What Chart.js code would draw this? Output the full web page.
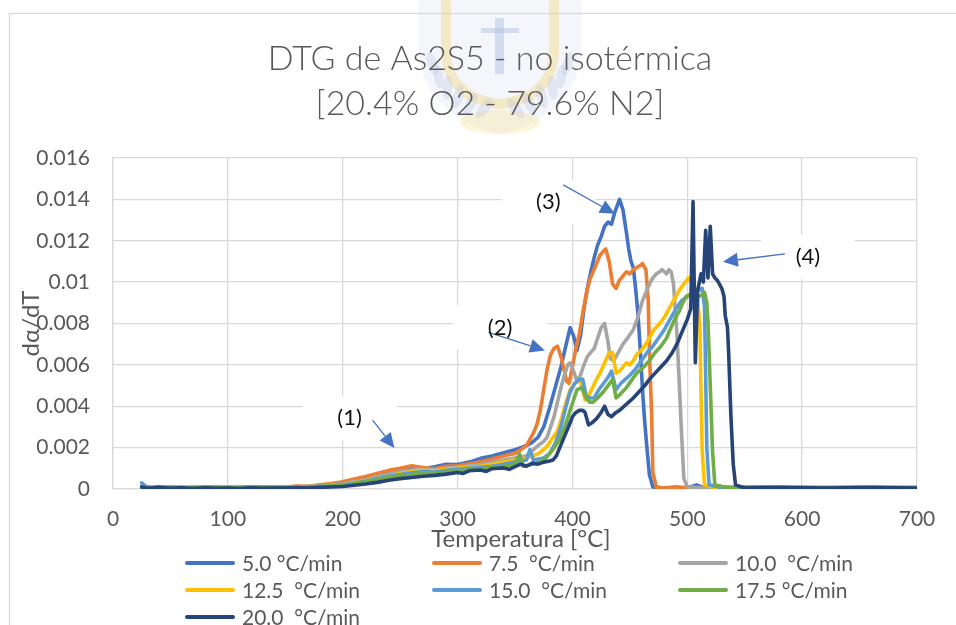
<!DOCTYPE html>
<html>
<head>
<meta charset="utf-8">
<title>DTG de As2S5 - no isotérmica</title>
<script src="https://cdn.jsdelivr.net/npm/chart.js@4/dist/chart.umd.min.js"></script>
<style>
  html, body { margin: 0; padding: 0; background: #ffffff; }
  canvas { display: block; }
</style>
</head>
<body>
<canvas id="dtg" width="956" height="625"></canvas>
<script>
// Heating-rate series (temperature in °C, dα/dT)
const seriesNames = ['5.0 °C/min', '7.5  °C/min', '10.0  °C/min', '12.5  °C/min', '15.0  °C/min', '17.5 °C/min', '20.0  °C/min'];

const tRate5 = [25,30,40,50,60,70,80,90,100,110,
  120,130,140,150,160,170,180,190,200,210,
  220,230,240,250,260,270,280,290,300,310,
  320,330,340,350,355,360,365,370,375,380,
  385,390,395,398,401,404,407,410,413,416,
  419,422,425,428,431,434,437,441,444,447,
  449,451,453,455,457,459,461,463,465,467,
  470,480,490,500,508,515,530,560,600,650,
  700];
const vRate5 = [0.0001,0.00005,0.0001,0.00003,0.00008,0.00005,0.0001,0.00004,0.00008,0.00006,
  0.0001,0.00007,0.0001,0.00008,0.00012,0.0001,0.00016,0.0002,0.0003,0.0004,
  0.00052,0.00065,0.0008,0.00092,0.00105,0.00098,0.00108,0.0012,0.00118,0.0013,
  0.00148,0.0016,0.00175,0.0019,0.002,0.0021,0.00225,0.0025,0.003,0.0039,
  0.0049,0.0059,0.0071,0.0078,0.0074,0.0067,0.0074,0.0087,0.0097,0.0105,
  0.0112,0.0118,0.0122,0.0127,0.0129,0.0128,0.0134,0.0140,0.0135,0.0124,
  0.0116,0.0110,0.0107,0.0097,0.0085,0.0068,0.0048,0.0032,0.0019,0.0007,
  0.0001,0.00005,0.0001,0.00005,0.0002,0.00005,0.0001,0.00005,0.00008,0.00005,
  0.00006];

const tRate75 = [25,30,40,50,60,70,80,90,100,110,
  120,130,140,150,160,170,180,190,200,210,
  220,230,240,250,260,270,280,290,300,310,
  320,330,340,350,355,360,363,366,369,372,
  375,378,381,384,387,390,393,395,397,400,
  403,406,409,412,415,418,421,424,427,429,
  432,435,438,441,444,447,450,453,456,459,
  461,464,466,467,469,470,473,480,500,520,
  560,600,650,700];
const vRate75 = [0.0001,0.00006,0.00004,0.00008,0.00005,0.0001,0.00006,0.00008,0.00005,0.0001,
  0.00007,0.00009,0.00011,0.0001,0.00014,0.00013,0.0002,0.00026,0.00035,0.00048,
  0.0006,0.00075,0.0009,0.001,0.00112,0.00104,0.00098,0.0011,0.00112,0.00122,
  0.00132,0.00145,0.0016,0.00172,0.0019,0.0021,0.0024,0.0027,0.0031,0.0038,
  0.0048,0.0058,0.0065,0.0068,0.0069,0.0064,0.0057,0.0052,0.0051,0.0059,
  0.0068,0.0075,0.0085,0.0094,0.0101,0.0105,0.0109,0.0113,0.0115,0.0116,
  0.0110,0.0099,0.0097,0.0101,0.0103,0.0105,0.0104,0.0106,0.0107,0.0108,
  0.0109,0.0106,0.0091,0.0067,0.0035,0.0008,0.0001,0.00005,0.00008,0.00004,
  0.00006,0.00003,0.00005,0.00004];

const tRate10 = [25,40,60,80,100,120,140,160,180,200,
  210,220,230,240,250,260,270,280,290,300,
  310,320,330,340,350,360,366,370,375,378,
  381,384,387,390,393,396,398,401,404,407,
  410,413,416,419,422,425,428,431,433,436,
  440,444,448,453,457,461,464,467,470,473,
  476,478,480,482,484,486,488,490,491,493,
  495,497,500,520,560,600,650,700];
const vRate10 = [0.00008,0.00005,0.0001,0.00005,0.00008,0.00005,0.0001,0.0001,0.00015,0.00025,
  0.00035,0.00045,0.0006,0.00072,0.00085,0.00092,0.00095,0.00092,0.001,0.00105,
  0.00112,0.0012,0.0013,0.0014,0.0015,0.0016,0.0019,0.0021,0.0023,0.0025,
  0.003,0.0035,0.0042,0.0049,0.0055,0.006,0.0061,0.0057,0.0052,0.0055,
  0.006,0.0064,0.0066,0.0068,0.0073,0.0078,0.0080,0.0071,0.0063,0.0062,
  0.0066,0.0070,0.0073,0.0077,0.0083,0.0091,0.0095,0.0099,0.0102,0.0104,
  0.0105,0.0106,0.0105,0.0104,0.0106,0.0105,0.0099,0.0083,0.0075,0.0051,
  0.0027,0.0005,0.0001,0.00005,0.00008,0.00004,0.00006,0.00005];

const tRate125 = [25,40,60,80,100,120,140,160,180,200,
  210,220,230,240,250,260,270,280,290,300,
  310,320,330,340,350,360,370,377,382,387,
  391,395,398,402,406,409,411,413,415,420,
  424,428,432,435,438,441,444,447,450,453,
  456,460,464,467,471,476,480,485,489,493,
  497,501,505,509,511,512,513,515,525,560,
  600,650,700];
const vRate125 = [0.00006,0.0001,0.00005,0.00008,0.00005,0.0001,0.00006,0.0001,0.00013,0.0002,
  0.0003,0.0004,0.0005,0.0006,0.00075,0.00085,0.0009,0.00088,0.00095,0.001,
  0.00105,0.0011,0.0012,0.0013,0.0014,0.0015,0.0017,0.002,0.0024,0.0028,
  0.0035,0.0043,0.0048,0.0051,0.0053,0.0048,0.0043,0.0044,0.0046,0.0052,
  0.0056,0.0061,0.0066,0.0066,0.0056,0.0057,0.0059,0.0061,0.0060,0.0062,
  0.0065,0.0067,0.0070,0.0073,0.0077,0.0080,0.0083,0.0088,0.0092,0.0096,
  0.0099,0.0102,0.0099,0.0093,0.0078,0.0045,0.0018,0.0002,0.00005,0.00008,
  0.00005,0.00007,0.00005];

const tRate15 = [25,28,35,50,70,90,110,130,150,170,
  190,200,210,220,230,240,250,260,270,280,
  290,300,310,320,330,340,350,360,363,366,
  375,380,385,390,394,398,402,406,409,412,
  415,419,423,427,431,434,438,442,446,450,
  455,460,465,470,475,480,485,490,495,500,
  505,510,513,515,516,517,519,530,560,600,
  650,700];
const vRate15 = [0.0003,0.00015,0.00005,0.0001,0.00005,0.0001,0.00006,0.0001,0.00007,0.0001,
  0.00015,0.0002,0.00028,0.00038,0.0005,0.0006,0.0007,0.00078,0.00085,0.00082,
  0.0009,0.00095,0.001,0.00105,0.0011,0.0012,0.0013,0.0014,0.0019,0.0014,
  0.0015,0.0017,0.0022,0.003,0.0039,0.0047,0.0051,0.0053,0.0053,0.0045,
  0.0044,0.0044,0.0048,0.0051,0.0054,0.0057,0.0048,0.0051,0.0053,0.0055,
  0.0058,0.0062,0.0066,0.0069,0.0073,0.0077,0.0082,0.0087,0.0091,0.0093,
  0.0095,0.0096,0.0097,0.0088,0.0055,0.002,0.0002,0.00006,0.0001,0.00005,
  0.00008,0.00005];

const tRate175 = [25,40,60,80,100,120,140,160,180,200,
  210,220,230,240,250,260,270,280,290,300,
  310,320,330,340,350,354,357,365,372,377,
  383,389,394,398,401,404,408,412,415,418,
  422,427,431,435,438,442,447,452,456,462,
  467,472,477,482,485,489,493,496,499,502,
  506,510,513,515,517,518,520,522,524,535,
  560,600,650,700];
const vRate175 = [0.00005,0.0001,0.00005,0.0001,0.00006,0.0001,0.00005,0.0001,0.00012,0.00018,
  0.00025,0.00035,0.00045,0.00055,0.00065,0.0007,0.00078,0.00075,0.00082,0.00088,
  0.00092,0.00098,0.00105,0.0011,0.0012,0.0017,0.0011,0.0012,0.0013,0.0015,
  0.0019,0.0024,0.0031,0.0038,0.0043,0.0048,0.0049,0.0044,0.0042,0.0042,
  0.0044,0.0047,0.0050,0.0053,0.0044,0.0046,0.0049,0.0053,0.0056,0.0059,
  0.0062,0.0066,0.0069,0.0073,0.0077,0.0082,0.0086,0.0090,0.0093,0.0094,
  0.0092,0.0093,0.0094,0.0095,0.0090,0.0081,0.0050,0.0018,0.0002,0.00006,
  0.0001,0.00006,0.0001,0.00008];

const tRate20 = [25,30,40,50,60,70,80,90,100,110,
  120,130,140,150,160,170,180,190,200,210,
  220,230,240,250,260,270,280,290,300,305,
  310,320,325,330,340,345,350,355,360,365,
  370,375,380,383,386,389,392,395,398,400,
  403,406,409,411,414,417,421,425,428,431,
  434,438,441,445,449,453,458,463,467,472,
  477,482,487,491,494,497,500,503,505,507,
  509,512,514,516,518,520,522,524,526,528,
  530,532,533,535,536,538,540,542,550,580,
  620,660,700];
const vRate20 = [0.0001,0.00004,0.00008,0.00003,0.00006,0.00002,0.00006,0.00003,0.00005,0.00002,
  0.00006,0.00003,0.00005,0.00004,0.00006,0.00005,0.00008,0.0001,0.00012,0.00018,
  0.00024,0.00032,0.00042,0.0005,0.00056,0.00062,0.00066,0.00072,0.0008,0.00075,
  0.00088,0.00092,0.00085,0.00098,0.00102,0.00095,0.00108,0.0012,0.0011,0.00125,
  0.0012,0.0013,0.00135,0.0014,0.0016,0.002,0.0024,0.0028,0.0032,0.0035,
  0.0037,0.0038,0.0038,0.0037,0.0031,0.0032,0.0034,0.0037,0.0040,0.0036,
  0.0035,0.0037,0.0038,0.0040,0.0042,0.0044,0.0047,0.0050,0.0053,0.0056,
  0.0059,0.0062,0.0066,0.0070,0.0074,0.0078,0.0082,0.0087,0.0139,0.0061,
  0.0096,0.0104,0.0100,0.0125,0.0102,0.0127,0.0104,0.0102,0.0101,0.0099,
  0.0097,0.0093,0.0084,0.0078,0.0066,0.0035,0.0012,0.0002,0.00005,0.00008,
  0.00004,0.00007,0.00005];

const seriesTemps  = [tRate5, tRate75, tRate10, tRate125, tRate15, tRate175, tRate20];
const seriesValues = [vRate5, vRate75, vRate10, vRate125, vRate15, vRate175, vRate20];

// Axis ticks
const xTickValues = [0, 100, 200, 300, 400, 500, 600, 700];
const xTickLabels = ['0', '100', '200', '300', '400', '500', '600', '700'];
const yTickValues = [0, 0.002, 0.004, 0.006, 0.008, 0.01, 0.012, 0.014, 0.016];
const yTickLabels = ['0', '0.002', '0.004', '0.006', '0.008', '0.01', '0.012', '0.014', '0.016'];

// Office palette for the seven series
const seriesColors = ['#4472C4', '#ED7D31', '#A5A5A5', '#FFC000', '#5B9BD5', '#70AD47', '#264478'];

// Numbered callouts: label anchor and arrow, in data units (°C, dα/dT)
const callouts = [
  { text: '(1)', at: [206, 0.00342], from: [226, 0.00333], to: [245, 0.00198] },
  { text: '(2)', at: [337, 0.00781], from: [327, 0.00757], to: [376, 0.00670] },
  { text: '(3)', at: [379, 0.01388], from: [392, 0.01470], to: [437, 0.01330] },
  { text: '(4)', at: [605, 0.01123], from: [585, 0.01137], to: [531, 0.01099] }
];

const GREY_TEXT = '#595959';
const GRID = '#D9D9D9';
const FONT = 'Lato, "Open Sans", "DejaVu Sans", sans-serif';

function drawCrest(ctx) {
  // faint university crest behind the title
  ctx.save();
  ctx.beginPath();
  ctx.moveTo(418, -5);
  ctx.lineTo(418, 45);
  ctx.quadraticCurveTo(420, 115, 500, 134);
  ctx.quadraticCurveTo(580, 115, 582, 45);
  ctx.lineTo(582, -5);
  ctx.closePath();
  ctx.fillStyle = 'rgba(205, 214, 236, 0.22)';
  ctx.fill();
  ctx.beginPath();
  ctx.moveTo(446, 0);
  ctx.lineTo(446, 52);
  ctx.quadraticCurveTo(448, 98, 500, 104);
  ctx.quadraticCurveTo(552, 98, 554, 52);
  ctx.lineTo(554, 0);
  ctx.strokeStyle = 'rgba(246, 206, 90, 0.32)';
  ctx.lineWidth = 10;
  ctx.stroke();
  ctx.fillStyle = 'rgba(170, 186, 222, 0.45)';
  ctx.fillRect(495, 18, 9, 56);
  ctx.fillRect(481, 28, 38, 5);
  ctx.fillStyle = 'rgba(250, 225, 150, 0.35)';
  ctx.beginPath();
  ctx.ellipse(500, 122, 40, 12, 0, 0, Math.PI * 2);
  ctx.fill();
  ctx.fillStyle = 'rgba(175, 190, 225, 0.28)';
  for (let k = 0; k < 6; k++) {
    const a = 0.35 + k * 0.2;
    ctx.beginPath();
    ctx.ellipse(500 - Math.cos(a) * 72, 40 + Math.sin(a) * 70, 12, 5, a + 0.9, 0, Math.PI * 2);
    ctx.fill();
    ctx.beginPath();
    ctx.ellipse(500 + Math.cos(a) * 72, 40 + Math.sin(a) * 70, 12, 5, -a - 0.9, 0, Math.PI * 2);
    ctx.fill();
  }
  ctx.restore();
}

function drawArrow(ctx, x1, y1, x2, y2) {
  const ang = Math.atan2(y2 - y1, x2 - x1);
  const headLen = 15, headHalf = 7;
  const bx = x2 - Math.cos(ang) * headLen, by = y2 - Math.sin(ang) * headLen;
  ctx.strokeStyle = '#4472C4';
  ctx.fillStyle = '#4472C4';
  ctx.lineWidth = 1.3;
  ctx.beginPath();
  ctx.moveTo(x1, y1);
  ctx.lineTo(bx, by);
  ctx.stroke();
  ctx.beginPath();
  ctx.moveTo(x2, y2);
  ctx.lineTo(bx - Math.sin(ang) * headHalf, by + Math.cos(ang) * headHalf);
  ctx.lineTo(bx + Math.sin(ang) * headHalf, by - Math.cos(ang) * headHalf);
  ctx.closePath();
  ctx.fill();
}

const decorations = {
  id: 'decorations',
  beforeDraw(chart) {
    const ctx = chart.ctx;
    ctx.save();
    ctx.fillStyle = '#ffffff';
    ctx.fillRect(0, 0, chart.width, chart.height);
    drawCrest(ctx);
    // chart frame
    ctx.strokeStyle = GRID;
    ctx.lineWidth = 1.3;
    ctx.strokeRect(9.5, 13.5, chart.width + 20, chart.height + 20);
    ctx.restore();
  },
  beforeDatasetsDraw(chart) {
    // white text boxes of the callouts sit over the gridlines
    const ctx = chart.ctx, xs = chart.scales.x, ys = chart.scales.y;
    ctx.save();
    ctx.fillStyle = '#ffffff';
    callouts.forEach(c => {
      const px = xs.getPixelForValue(c.at[0]), py = ys.getPixelForValue(c.at[1]);
      ctx.fillRect(px - 47, py - 22, 94, 44);
    });
    ctx.restore();
  },
  afterDatasetsDraw(chart) {
    const ctx = chart.ctx, xs = chart.scales.x, ys = chart.scales.y;
    ctx.save();
    callouts.forEach(c => {
      drawArrow(ctx,
        xs.getPixelForValue(c.from[0]), ys.getPixelForValue(c.from[1]),
        xs.getPixelForValue(c.to[0]), ys.getPixelForValue(c.to[1]));
      ctx.fillStyle = '#111111';
      ctx.font = '22px ' + FONT;
      ctx.textAlign = 'center';
      ctx.textBaseline = 'middle';
      ctx.fillText(c.text, xs.getPixelForValue(c.at[0]), ys.getPixelForValue(c.at[1]));
    });
    ctx.restore();
  },
  afterDraw(chart) {
    const ctx = chart.ctx, area = chart.chartArea;
    ctx.save();
    ctx.fillStyle = GREY_TEXT;
    ctx.textAlign = 'center';
    ctx.textBaseline = 'alphabetic';
    // title
    ctx.font = '300 34px ' + FONT;
    ctx.fillText('DTG de As2S5 - no isotérmica', 490, 70);
    ctx.fillText('[20.4% O2 - 79.6% N2]', 490, 115);
    // axis titles
    ctx.font = '24px ' + FONT;
    ctx.fillText('Temperatura [°C]', (area.left + area.right) / 2 + 6, 547);
    ctx.save();
    ctx.translate(31, (area.top + area.bottom) / 2);
    ctx.rotate(-Math.PI / 2);
    ctx.textBaseline = 'middle';
    ctx.fillText('dα/dT', 0, 0);
    ctx.restore();
    // legend: three columns
    const colX = [185, 432, 678], rowY = [563, 590, 617];
    ctx.font = '21px ' + FONT;
    ctx.textAlign = 'left';
    ctx.textBaseline = 'middle';
    ctx.lineCap = 'round';
    seriesNames.forEach((name, i) => {
      const x = colX[i % 3], y = rowY[Math.floor(i / 3)];
      ctx.strokeStyle = seriesColors[i];
      ctx.lineWidth = 4;
      ctx.beginPath();
      ctx.moveTo(x + 2, y);
      ctx.lineTo(x + 48, y);
      ctx.stroke();
      ctx.fillStyle = GREY_TEXT;
      ctx.fillText(name, x + 57, y + 1);
    });
    ctx.restore();
  }
};

function build() {
  Chart.defaults.font.family = FONT;
  const datasets = seriesNames.map((name, i) => ({
    label: name,
    data: seriesTemps[i].map((t, j) => ({ x: t, y: seriesValues[i][j] })),
    borderColor: seriesColors[i],
    backgroundColor: seriesColors[i],
    borderWidth: 3.6,
    pointRadius: 0,
    tension: 0,
    fill: false,
    borderJoinStyle: 'round',
    borderCapStyle: 'round',
    order: seriesNames.length - i
  }));

  new Chart(document.getElementById('dtg'), {
    type: 'line',
    data: { datasets },
    options: {
      responsive: false,
      animation: false,
      devicePixelRatio: 1,
      layout: { padding: { top: 158, right: 39, left: 0, bottom: 0 } },
      plugins: {
        legend: { display: false },
        title: { display: false },
        tooltip: { enabled: false }
      },
      scales: {
        x: {
          type: 'linear',
          min: 0,
          max: 700,
          afterBuildTicks: s => { s.ticks = xTickValues.map(v => ({ value: v })); },
          afterFit: s => { s.height = 136; },
          grid: { color: GRID, lineWidth: 1.3, drawTicks: false },
          border: { color: GRID, width: 1.3 },
          ticks: {
            padding: 18,
            color: GREY_TEXT,
            font: { size: 21 },
            maxRotation: 0,
            autoSkip: false,
            callback: (v, i) => xTickLabels[i]
          }
        },
        y: {
          type: 'linear',
          min: 0,
          max: 0.016,
          afterBuildTicks: s => { s.ticks = yTickValues.map(v => ({ value: v })); },
          afterFit: s => { s.width = 113; },
          grid: { color: GRID, lineWidth: 1.3, drawTicks: false },
          border: { color: GRID, width: 1.3 },
          ticks: {
            padding: 23,
            color: GREY_TEXT,
            font: { size: 21 },
            autoSkip: false,
            callback: (v, i) => yTickLabels[i]
          }
        }
      }
    },
    plugins: [decorations]
  });
}

if (document.fonts && document.fonts.load) {
  Promise.all([
    document.fonts.load('21px Lato'),
    document.fonts.load('300 34px Lato')
  ]).then(build, build);
} else {
  build();
}
</script>
</body>
</html>
